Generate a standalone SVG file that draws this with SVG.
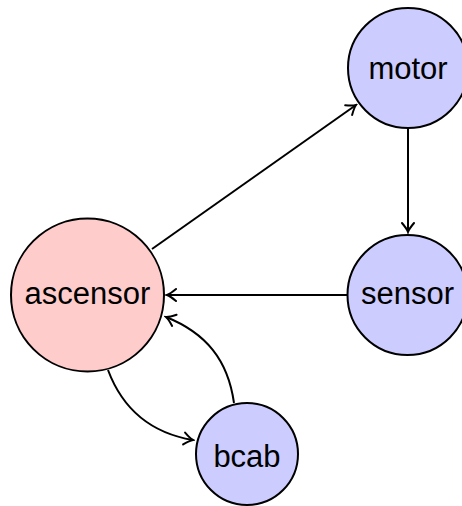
<svg xmlns="http://www.w3.org/2000/svg" width="462" height="506" viewBox="0 0 462 506">
<style>
.node circle{stroke:#000;stroke-width:2}
.red circle{fill:#ffcccc}
.blue circle{fill:#ccccff}
.node text{font-family:"Liberation Sans",Arial,sans-serif;font-size:31px;fill:#000;text-anchor:middle}
.edges path{fill:none;stroke:#000;stroke-width:2;marker-end:url(#arr)}
</style>
<defs>
<marker id="arr" markerUnits="userSpaceOnUse" viewBox="-11 -8 13 16" markerWidth="13" markerHeight="16" refX="0" refY="0" orient="auto">
<path d="M-9,-6 Q-3,-1 0,0 Q-3,1 -9,6" fill="none" stroke="#000" stroke-width="2" stroke-linecap="round"/>
</marker>
</defs>
<g class="edges">
<path d="M152,249 L356,105"/>
<path d="M408,128 L408,232"/>
<path d="M347,295 L167,295"/>
<path d="M108,370 C123,410 151,433 193,440"/>
<path d="M234,403 C228,360 206,333 166,317"/>
</g>
<g id="ascensor" class="node red"><circle cx="87.5" cy="295" r="76.5"/><text x="87.5" y="304">ascensor</text></g>
<g id="motor" class="node blue"><circle cx="408" cy="68" r="60"/><text x="408" y="79">motor</text></g>
<g id="sensor" class="node blue"><circle cx="407.5" cy="295" r="60"/><text x="407.5" y="304">sensor</text></g>
<g id="bcab" class="node blue"><circle cx="247" cy="454" r="51"/><text x="247" y="467">bcab</text></g>
</svg>
